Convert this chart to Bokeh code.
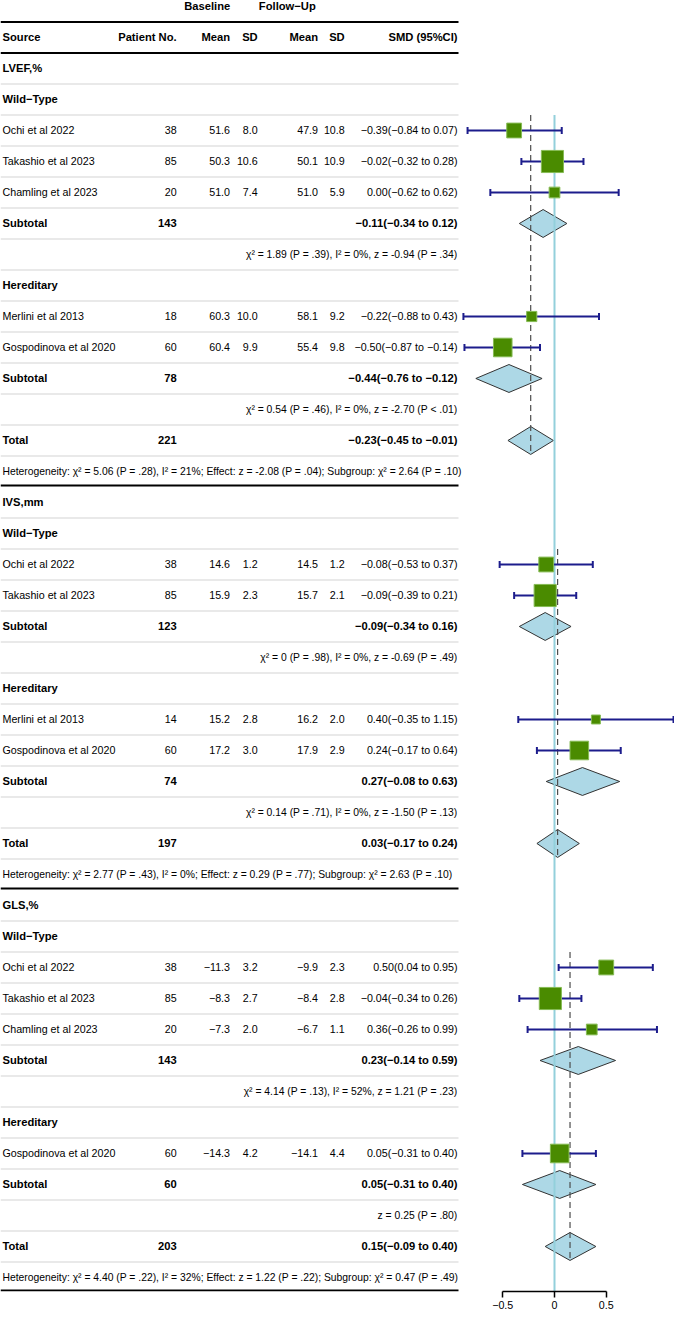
import math
from bokeh.plotting import figure
from bokeh.models import Range1d, LinearAxis, FixedTicker, ColumnDataSource
from bokeh.embed import file_html
from bokeh.resources import INLINE
from bokeh.core.properties import value

# ---------------- data ----------------
sections = ["LVEF,%", "IVS,mm", "GLS,%"]
groups = ["Wild−Type", "Hereditary"]

study_section = ["LVEF,%"] * 5 + ["IVS,mm"] * 4 + ["GLS,%"] * 4
study_group = ["Wild−Type", "Wild−Type", "Wild−Type", "Hereditary", "Hereditary",
               "Wild−Type", "Wild−Type", "Hereditary", "Hereditary",
               "Wild−Type", "Wild−Type", "Wild−Type", "Hereditary"]
study_name = ["Ochi et al 2022", "Takashio et al 2023", "Chamling et al 2023",
              "Merlini et al 2013", "Gospodinova et al 2020",
              "Ochi et al 2022", "Takashio et al 2023",
              "Merlini et al 2013", "Gospodinova et al 2020",
              "Ochi et al 2022", "Takashio et al 2023", "Chamling et al 2023",
              "Gospodinova et al 2020"]
study_n = [38, 85, 20, 18, 60, 38, 85, 14, 60, 38, 85, 20, 60]
base_mean = [51.6, 50.3, 51.0, 60.3, 60.4, 14.6, 15.9, 15.2, 17.2, -11.3, -8.3, -7.3, -14.3]
base_sd = [8.0, 10.6, 7.4, 10.0, 9.9, 1.2, 2.3, 2.8, 3.0, 3.2, 2.7, 2.0, 4.2]
fu_mean = [47.9, 50.1, 51.0, 58.1, 55.4, 14.5, 15.7, 16.2, 17.9, -9.9, -8.4, -6.7, -14.1]
fu_sd = [10.8, 10.9, 5.9, 9.2, 9.8, 1.2, 2.1, 2.0, 2.9, 2.3, 2.8, 1.1, 4.4]
smd = [-0.39, -0.02, 0.00, -0.22, -0.50, -0.08, -0.09, 0.40, 0.24, 0.50, -0.04, 0.36, 0.05]
smd_lo = [-0.84, -0.32, -0.62, -0.88, -0.87, -0.53, -0.39, -0.35, -0.17, 0.04, -0.34, -0.26, -0.31]
smd_hi = [0.07, 0.28, 0.62, 0.43, -0.14, 0.37, 0.21, 1.15, 0.64, 0.95, 0.26, 0.99, 0.40]

sub_section = ["LVEF,%", "LVEF,%", "IVS,mm", "IVS,mm", "GLS,%", "GLS,%"]
sub_group = ["Wild−Type", "Hereditary"] * 3
sub_n = [143, 78, 123, 74, 143, 60]
sub_smd = [-0.11, -0.44, -0.09, 0.27, 0.23, 0.05]
sub_lo = [-0.34, -0.76, -0.34, -0.08, -0.14, -0.31]
sub_hi = [0.12, -0.12, 0.16, 0.63, 0.59, 0.40]
sub_stats = ["χ² = 1.89 (P = .39), I² = 0%, z = -0.94 (P = .34)",
             "χ² = 0.54 (P = .46), I² = 0%, z = -2.70 (P < .01)",
             "χ² = 0 (P = .98), I² = 0%, z = -0.69 (P = .49)",
             "χ² = 0.14 (P = .71), I² = 0%, z = -1.50 (P = .13)",
             "χ² = 4.14 (P = .13), I² = 52%, z = 1.21 (P = .23)",
             "z = 0.25 (P = .80)"]

total_n = [221, 197, 203]
total_smd = [-0.23, 0.03, 0.15]
total_lo = [-0.45, -0.17, -0.09]
total_hi = [-0.01, 0.24, 0.40]
total_stats = ["Heterogeneity: χ² = 5.06 (P = .28), I² = 21%; Effect: z = -2.08 (P = .04); Subgroup: χ² = 2.64 (P = .10)",
               "Heterogeneity: χ² = 2.77 (P = .43), I² = 0%; Effect: z = 0.29 (P = .77); Subgroup: χ² = 2.63 (P = .10)",
               "Heterogeneity: χ² = 4.40 (P = .22), I² = 32%; Effect: z = 1.22 (P = .22); Subgroup: χ² = 0.47 (P = .49)"]

header_top = ["Baseline", "Follow−Up"]
header_cols = ["Source", "Patient No.", "Mean", "SD", "Mean", "SD", "SMD (95%CI)"]
tick_values = [-0.5, 0, 0.5]
tick_labels = ["−0.5", "0", "0.5"]

# ---------------- layout ----------------
W, H = 674, 1314
ROW_TOP = -2.1935
ROW_BOT = 39.452
X_LEFT = 2
X_N, X_BM, X_BSD, X_FM, X_FSD, X_SMD = 176.1, 229.5, 257.2, 317.5, 344.2, 457
X_BASE_H, X_FU_H = 206.7, 286.8
LINE_END = 458
ZERO_PX, PX_PER_UNIT = 554.0, 103.5

FONT = "Liberation Sans"
REG = "10.7px"
STAT = "10.35px"
BOLD = "11.2px"


def fmt(v, d=1):
    return f"{v:.{d}f}".replace("-", "−")


def smd_txt(e, lo, hi):
    return f"{fmt(e, 2)}({fmt(lo, 2)} to {fmt(hi, 2)})"


p = figure(width=W, height=H, x_range=Range1d(0, W), y_range=Range1d(ROW_BOT, ROW_TOP),
           output_backend="svg", toolbar_location=None, x_axis_type=None, y_axis_type=None,
           min_border_left=0, min_border_right=0, min_border_top=0, min_border_bottom=23)
p.extra_x_ranges = {"smd": Range1d(-ZERO_PX / PX_PER_UNIT, (W - ZERO_PX) / PX_PER_UNIT)}
p.outline_line_color = None
p.xgrid.visible = False
p.ygrid.visible = False
p.background_fill_color = "white"
p.border_fill_color = "white"

texts = {}  # key (align, style) -> lists


def add_text(x, r, t, align="left", style="reg"):
    d = texts.setdefault((align, style), {"x": [], "y": [], "text": []})
    d["x"].append(x)
    d["y"].append(r)
    d["text"].append(t)


grey_y, thick_y = [], []
whisk = {"lo": [], "hi": [], "y": []}
sq = {"x": [], "y": [], "size": []}
dia_xs, dia_ys = [], []
dash_x, dash_y0, dash_y1 = [], [], []

# header
add_text(X_BASE_H, -2, header_top[0], "center", "bold")
add_text(X_FU_H, -2, header_top[1], "center", "bold")
hx = [X_LEFT, X_N, X_BM, X_BSD, X_FM, X_FSD, X_SMD]
for i, h in enumerate(header_cols):
    add_text(hx[i], -1, h, "left" if i == 0 else "right", "bold")
thick_y += [-1.5, -0.5]

HALF = 0.45
row = 0
for si, sec in enumerate(sections):
    add_text(X_LEFT, row, sec, "left", "bold")
    grey_y.append(row + 0.5)
    row += 1
    first_study = None
    for g in groups:
        add_text(X_LEFT, row, g, "left", "bold")
        grey_y.append(row + 0.5)
        row += 1
        for i in range(len(study_name)):
            if study_section[i] != sec or study_group[i] != g:
                continue
            if first_study is None:
                first_study = row
            add_text(X_LEFT, row, study_name[i])
            add_text(X_N, row, str(study_n[i]), "right")
            add_text(X_BM, row, fmt(base_mean[i]), "right")
            add_text(X_BSD, row, fmt(base_sd[i]), "right")
            add_text(X_FM, row, fmt(fu_mean[i]), "right")
            add_text(X_FSD, row, fmt(fu_sd[i]), "right")
            add_text(X_SMD, row, smd_txt(smd[i], smd_lo[i], smd_hi[i]), "right")
            whisk["lo"].append(smd_lo[i]); whisk["hi"].append(smd_hi[i]); whisk["y"].append(row)
            sq["x"].append(smd[i]); sq["y"].append(row); sq["size"].append(2.4 * math.sqrt(study_n[i]))
            grey_y.append(row + 0.5)
            row += 1
        k = [j for j in range(len(sub_n)) if sub_section[j] == sec and sub_group[j] == g][0]
        add_text(X_LEFT, row, "Subtotal", "left", "bold")
        add_text(X_N, row, str(sub_n[k]), "right", "bold")
        add_text(X_SMD, row, smd_txt(sub_smd[k], sub_lo[k], sub_hi[k]), "right", "bold")
        dia_xs.append([sub_lo[k], sub_smd[k], sub_hi[k], sub_smd[k]])
        dia_ys.append([row, row - HALF, row, row + HALF])
        grey_y.append(row + 0.5)
        row += 1
        add_text(X_SMD, row, sub_stats[k], "right", "stat")
        grey_y.append(row + 0.5)
        row += 1
    add_text(X_LEFT, row, "Total", "left", "bold")
    add_text(X_N, row, str(total_n[si]), "right", "bold")
    add_text(X_SMD, row, smd_txt(total_smd[si], total_lo[si], total_hi[si]), "right", "bold")
    dia_xs.append([total_lo[si], total_smd[si], total_hi[si], total_smd[si]])
    dia_ys.append([row, row - HALF, row, row + HALF])
    dash_x.append(total_smd[si]); dash_y0.append(first_study - 0.5); dash_y1.append(row + HALF)
    grey_y.append(row + 0.5)
    row += 1
    add_text(X_LEFT, row, total_stats[si], "left", "stat")
    thick_y.append(min(row + 0.45, ROW_BOT - 0.03))
    row += 1

# table lines
p.segment(x0=[0] * len(grey_y), x1=[LINE_END] * len(grey_y), y0=grey_y, y1=grey_y,
          line_color="#d4d4d4", line_width=1.2)
p.segment(x0=[0] * len(thick_y), x1=[LINE_END] * len(thick_y), y0=thick_y, y1=thick_y,
          line_color="black", line_width=2)

# texts
sizes = {"reg": REG, "stat": STAT, "bold": BOLD}
for (align, style), d in texts.items():
    p.text(x="x", y="y", text="text", source=ColumnDataSource(d),
           text_align=align, text_baseline="middle",
           text_font=value(FONT), text_font_size=sizes[style],
           text_font_style="bold" if style == "bold" else "normal", text_color="black")

# forest
p.patches(xs=dia_xs, ys=dia_ys, fill_color="#add8e6", line_color="#333333", line_width=1,
          x_range_name="smd")
p.segment(x0=[0], x1=[0], y0=[1.5], y1=[ROW_BOT], line_color="#93d0db", line_width=2,
          x_range_name="smd")
p.segment(x0=dash_x, x1=dash_x, y0=dash_y0, y1=dash_y1, line_color="#4d4d4d",
          line_width=1.2, line_dash="6 4", x_range_name="smd")
p.segment(x0=whisk["lo"], x1=whisk["hi"], y0=whisk["y"], y1=whisk["y"],
          line_color="#1c1c8c", line_width=2, x_range_name="smd")
cy0 = [y - 0.113 for y in whisk["y"]]
cy1 = [y + 0.113 for y in whisk["y"]]
p.segment(x0=whisk["lo"], x1=whisk["lo"], y0=cy0, y1=cy1, line_color="#1c1c8c",
          line_width=2, x_range_name="smd")
p.segment(x0=whisk["hi"], x1=whisk["hi"], y0=cy0, y1=cy1, line_color="#1c1c8c",
          line_width=2, x_range_name="smd")
p.scatter(x="x", y="y", size="size", source=ColumnDataSource(sq), marker="square",
          fill_color="#4a8b00", line_color="#86bb55", line_width=1, x_range_name="smd")

axis = LinearAxis(x_range_name="smd", ticker=FixedTicker(ticks=tick_values), bounds=(-0.5, 0.5))
axis.major_label_overrides = {t: l for t, l in zip(tick_values, tick_labels)}
axis.minor_tick_line_color = None
axis.major_tick_in = 0
axis.major_tick_out = 6
axis.major_tick_line_width = 1.5
axis.axis_line_width = 1.5
axis.axis_line_color = "black"
axis.major_tick_line_color = "black"
axis.major_label_standoff = 3
axis.major_label_text_font = FONT
axis.major_label_text_font_size = REG
axis.major_label_text_color = "black"
p.add_layout(axis, "below")

open("out.html", "w").write(file_html(p, INLINE))
